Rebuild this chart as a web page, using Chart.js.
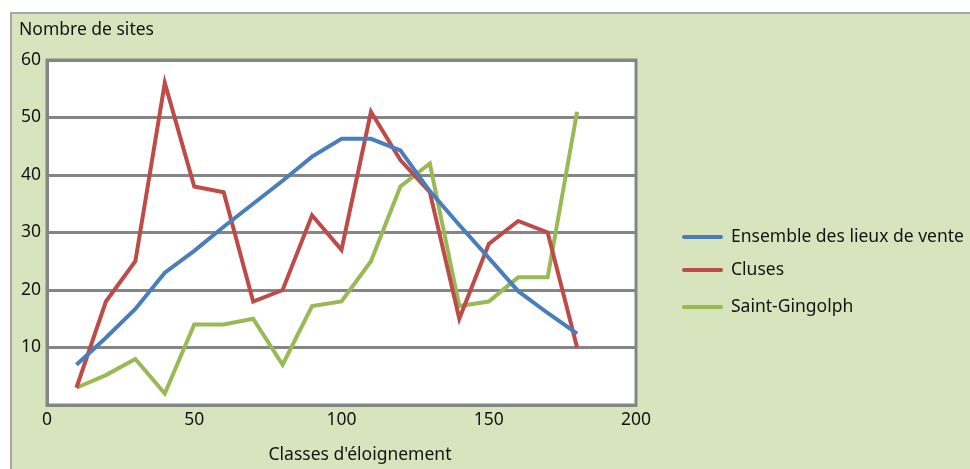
<!DOCTYPE html>
<html>
<head>
<meta charset="utf-8">
<script src="https://cdn.jsdelivr.net/npm/chart.js@4/dist/chart.umd.min.js"></script>
<style>
  html, body { margin: 0; padding: 0; background: #fff; }
  #wrap { width: 970px; height: 469px; }
</style>
</head>
<body>
<div id="wrap"><canvas id="chart" width="970" height="469"></canvas></div>
<script>
// x classes (distance) and number of sites per series
const classes = [10, 20, 30, 40, 50, 60, 70, 80, 90, 100, 110, 120, 130, 140, 150, 160, 170, 180];
const ensemble = [7, 11.7, 16.7, 23, 26.8, 31, 35, 39, 43.2, 46.3, 46.3, 44.3, 37.2, 31.3, 25.6, 19.8, 16, 12.4];
const cluses = [3, 18, 25, 56, 38, 37, 18, 20, 33, 27, 51, 42.6, 37, 15, 28, 32, 30, 10];
const saintGingolph = [3, 5.2, 8, 2, 14, 14, 15, 7, 17.2, 18, 25, 38, 42, 17.2, 18, 22.2, 22.2, 51];
const seriesNames = ['Ensemble des lieux de vente', 'Cluses', 'Saint-Gingolph'];
const xTicks = [0, 50, 100, 150, 200];
const yTicks = [10, 20, 30, 40, 50, 60];

const FONT = '"Noto Sans", "Open Sans", sans-serif';
const TEXT = '#141414';
const colors = ['#4a7ebb', '#be4b48', '#98b954'];

function pts(ys){ return classes.map((x, i) => ({x: x, y: ys[i]})); }

const frame = {
  id: 'frame',
  beforeDraw(chart){
    const c = chart.ctx, a = chart.chartArea;
    c.save();
    c.fillStyle = '#d7e4bd';
    c.fillRect(10, 12, 970, 470);
    c.strokeStyle = '#a5a5a5';
    c.lineWidth = 2;
    c.strokeRect(11, 13, 970, 470);
    c.fillStyle = '#ffffff';
    c.fillRect(a.left, a.top, a.right - a.left, a.bottom - a.top);
    c.restore();
  },
  afterDatasetsDraw(chart){
    const c = chart.ctx, a = chart.chartArea;
    c.save();
    c.strokeStyle = '#858585';
    c.lineWidth = 3;
    c.strokeRect(a.left, a.top, a.right - a.left, a.bottom - a.top);
    c.fillStyle = TEXT;
    c.font = '17.5px ' + FONT;
    c.textBaseline = 'middle';
    c.textAlign = 'left';
    c.fillText('Nombre de sites', 19, 30);
    c.textAlign = 'center';
    c.fillText("Classes d'éloignement", 360, 455);
    // legend
    const rows = [237, 270, 307];
    chart.data.datasets.forEach((ds, i) => {
      c.strokeStyle = ds.borderColor;
      c.lineWidth = 4;
      c.lineCap = 'round';
      c.beginPath();
      c.moveTo(684, rows[i]);
      c.lineTo(721, rows[i]);
      c.stroke();
      c.textAlign = 'left';
      c.fillStyle = TEXT;
      c.fillText(ds.label, 731, rows[i]);
    });
    c.restore();
  }
};

new Chart(document.getElementById('chart'), {
  type: 'line',
  data: {
    datasets: [ensemble, cluses, saintGingolph].map((d, i) => ({
      label: seriesNames[i],
      data: pts(d),
      borderColor: colors[i],
      borderWidth: 4,
      pointRadius: 0,
      tension: 0,
      fill: false
    }))
  },
  options: {
    responsive: false,
    animation: false,
    layout: { padding: { left: 0, top: 60, right: 334, bottom: 0 } },
    plugins: { legend: { display: false }, tooltip: { enabled: false } },
    scales: {
      x: {
        type: 'linear', min: 0, max: 200,
        afterBuildTicks(s){ s.ticks = xTicks.map(v => ({value: v})); },
        afterFit(s){ s.height = 64; },
        grid: { display: false, drawTicks: false },
        border: { color: '#858585', width: 3 },
        ticks: { color: TEXT, font: { size: 17.5, family: FONT }, padding: 5, maxRotation: 0 }
      },
      y: {
        min: 0, max: 60,
        afterBuildTicks(s){ s.ticks = yTicks.map(v => ({value: v})); },
        afterFit(s){ s.width = 47; },
        grid: { color: '#858585', lineWidth: 3, drawTicks: false },
        border: { color: '#858585', width: 3 },
        ticks: { color: TEXT, font: { size: 17.5, family: FONT }, padding: 6 }
      }
    }
  },
  plugins: [frame]
});
</script>
</body>
</html>
